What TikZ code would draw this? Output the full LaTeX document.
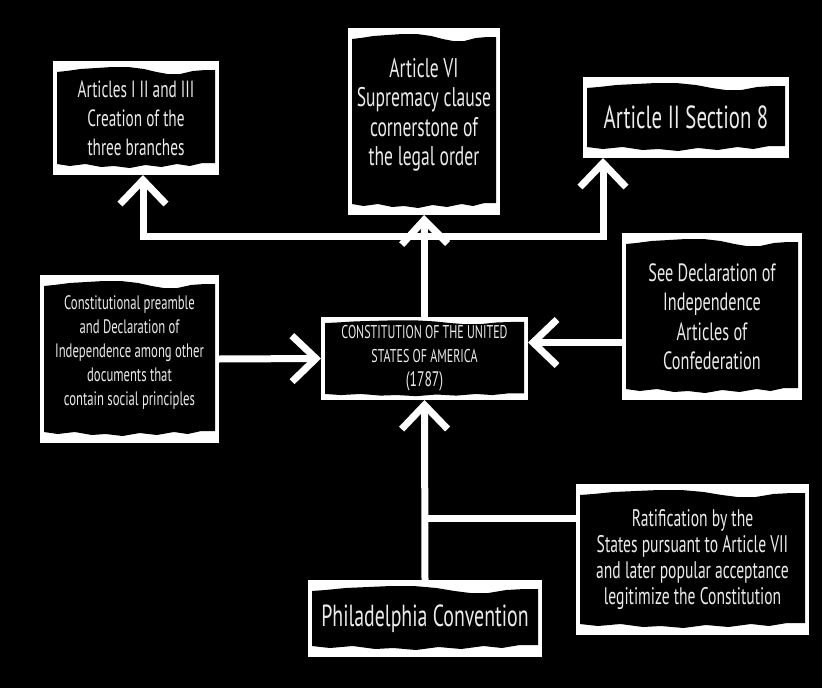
\documentclass[tikz,border=0pt]{standalone}
\usepackage{fontspec}
\setmainfont{PT Sans}[FakeStretch=0.65]
\usetikzlibrary{arrows.meta,calc}

\def\toppat{0.06/10,0.15/8,0.25/7,0.35/6,0.45/6,0.55/8,0.63/11,0.7/13,0.78/13,0.86/10,0.94/9,1/9}
\def\botpat{1/12,0.92/12,0.84/9,0.76/11,0.66/8,0.56/10,0.46/7,0.36/9,0.28/8,0.18/11,0.08/9,0/11}
\def\tamp{1}

\newcommand\tornbox[7]{%
  \pgfmathsetmacro\tbw{#4-#2}%
  \pgfmathsetmacro\tbh{#5-#3}%
  \pgfmathsetmacro\tiw{#4-#2-8}%
  \fill[white] (#2,#3) rectangle (#4,#5);
  \fill[black] ({#2+4},{#3+11*\tamp}) \foreach \f/\d in \toppat { -- ({#2+4+\f*\tiw},{#3+\d*\tamp}) }
     \foreach \f/\d in \botpat { -- ({#2+4+\f*\tiw},{#5-\d*\tamp}) } -- cycle;
  \node[boxtext, minimum width=\tbw pt, minimum height=\tbh pt, font={#6}] (#1) at ({(#2+#4)/2},{(#3+#5)/2}) {#7};
}

\begin{document}
\begin{tikzpicture}[x=1pt, y=-1pt,
  boxtext/.style={draw=none, inner sep=0pt, outer sep=0pt, align=center, text=white!92!black},
  conn/.style={draw=white, line width=7pt, line join=miter},
  arr/.style={conn, -{Straight Barb[length=24pt, width=46pt, line width=7pt]}}]
\useasboundingbox (0,0) rectangle (822,688);
\fill[black] (0,0) rectangle (822,688);

\tornbox{A}{53}{61}{219}{175}{\fontsize{23.5}{29}\selectfont}{Articles I II and III\\Creation of the\\three branches}
\tornbox{B}{348}{28}{500}{215}{\fontsize{27}{29.5}\selectfont}{Article VI\\Supremacy clause\\cornerstone of\\the legal order\\[-10pt]\mbox{}}
\tornbox{C}{583}{77}{789}{158}{\fontsize{32}{36}\selectfont}{Article II Section 8}
\tornbox{D}{40}{275}{219}{443}{\fontsize{19.5}{24}\selectfont}{Constitutional preamble\\and Declaration of\\Independence among other\\documents that\\contain social principles\\[-8pt]\mbox{}}
\def\tamp{0.55}
\tornbox{E}{321}{317}{528}{400}{\fontsize{18.5}{24}\selectfont}{CONSTITUTION OF THE UNITED\\STATES OF AMERICA\\{\fontsize{21}{23}\selectfont(1787)}}
\def\tamp{1}
\tornbox{F}{622}{233}{802}{400}{\fontsize{25}{29.5}\selectfont}{See Declaration of\\Independence\\Articles of\\Confederation}
\tornbox{G}{576}{484}{809}{635}{\fontsize{24}{26}\selectfont}{Ratification by the\\States pursuant to Article VII\\and later popular acceptance\\legitimize the Constitution}
\tornbox{H}{308}{580}{542}{657}{\fontsize{30.5}{34}\selectfont}{Philadelphia Convention}

\coordinate (bar) at (E.north |- 0,236);
\draw[conn] (E.north) -- (bar);
\draw[arr] (bar) -| ([xshift=7pt]A.south);
\draw[arr] (bar) -- (B.south);
\draw[arr] (bar) -| ([xshift=20pt]C.south west);
\draw[arr] (D.east) -- (E.west);
\coordinate (fa) at ([yshift=-26pt]F.west);
\draw[arr] (fa) -- (fa -| E.east);
\draw[arr] (H.north) -- (E.south);
\coordinate (ga) at ([yshift=41pt]G.west);
\draw[conn] (ga) -- (ga -| H.north);
\end{tikzpicture}
\end{document}
